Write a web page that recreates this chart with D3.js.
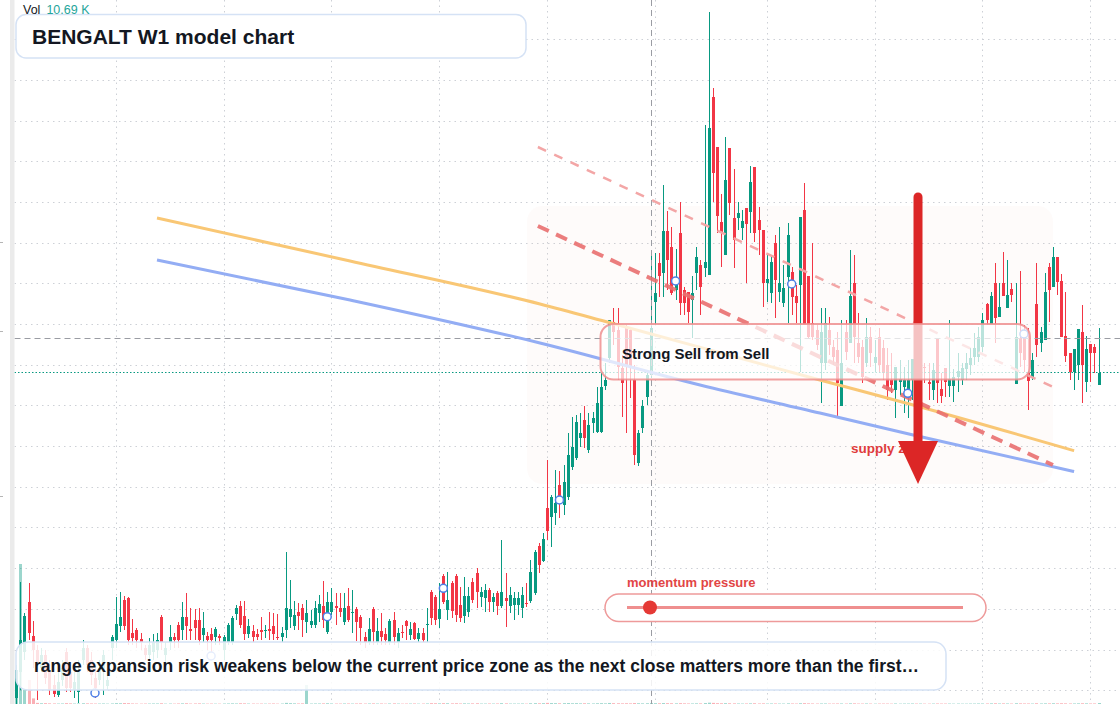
<!DOCTYPE html>
<html><head><meta charset="utf-8">
<script src="https://cdn.jsdelivr.net/npm/d3@7"></script>
<style>
html,body{margin:0;padding:0;background:#fff;overflow:hidden;}
svg{display:block;font-family:"Liberation Sans",Arial,sans-serif;}
</style></head><body>
<svg id="c" width="1120" height="704"></svg>
<script>
// ---- data: weekly candles [open, high, low, close]
const ohlc = [
[2.2,5.5,1.4,5.0],[4.8,13.8,3.0,8.0],[6.8,10.7,6.0,10.4],[11.8,13.7,8.0,8.7],[8.4,9.9,5.2,7.0],[7.0,7.5,2.0,5.8],[5.2,7.2,4.8,6.5],[6.5,7.0,3.6,4.2],[5.0,6.0,2.5,3.0],[3.5,4.5,2.3,2.6],
[2.5,5.0,2.3,3.8],[4.0,6.0,3.4,5.2],[6.8,7.2,2.8,3.2],[4.8,5.5,2.8,3.2],[3.0,4.8,2.2,3.8],[2.8,6.0,1.7,4.8],[6.0,8.0,5.5,7.2],[7.2,7.5,4.8,5.5],[6.0,6.8,3.5,4.5],[4.2,5.2,2.2,3.2],
[4.0,6.0,3.5,5.2],[4.8,7.0,2.5,6.5],[3.4,4.8,3.0,4.0],[7.2,8.5,6.0,8.3],[8.0,12.3,7.2,9.6],[9.4,12.8,8.8,10.3],[12.0,12.4,9.0,9.4],[12.2,12.3,7.5,8.0],[8.7,10.1,7.5,8.2],[9.0,9.2,7.2,8.0],
[8.1,8.7,7.0,7.8],[7.2,7.5,6.0,6.5],[6.5,8.2,5.5,7.5],[6.8,8.6,6.0,7.8],[7.0,8.7,6.2,8.0],[10.3,10.5,7.0,7.8],[6.5,7.8,5.8,7.2],[7.8,9.5,7.0,8.3],[8.3,8.7,7.2,8.0],[9.5,9.8,7.2,8.0],
[9.0,11.8,8.0,10.3],[10.3,12.7,8.0,9.4],[9.1,11.2,8.0,8.9],[10.0,11.1,8.0,9.2],[10.0,11.2,7.5,8.0],[8.5,10.8,7.8,9.2],[8.4,8.8,7.0,8.0],[8.6,9.2,6.0,8.0],[8.3,9.3,7.5,9.1],[8.4,8.6,7.5,8.2],
[7.0,8.5,6.0,8.3],[7.8,9.7,7.5,9.5],[7.8,10.4,7.5,10.2],[10.6,11.5,10.0,11.2],[11.4,11.9,9.2,9.5],[10.4,11.9,8.0,8.6],[8.6,10.1,8.2,9.4],[8.9,9.5,7.8,8.3],[8.6,9.1,8.0,8.3],[9.0,10.3,8.0,8.8],
[8.9,9.5,8.2,9.0],[9.1,10.8,8.0,8.9],[9.4,10.7,8.0,8.6],[8.3,10.6,8.0,8.2],[8.3,9.3,7.8,8.7],[9.0,16.8,8.2,11.2],[10.3,14.0,9.2,11.1],[9.4,11.9,9.0,10.5],[10.8,11.7,9.0,10.4],[11.2,11.6,8.3,10.0],
[9.8,12.0,8.7,10.7],[9.5,11.0,9.2,9.9],[9.5,11.9,9.2,11.2],[10.7,12.5,9.8,11.6],[11.4,13.9,9.2,10.0],[8.8,12.8,8.6,11.8],[10.8,13.2,10.5,11.8],[11.4,12.7,9.5,11.2],[11.2,12.7,10.3,10.8],[9.8,12.7,9.5,11.2],
[11.4,13.2,9.8,10.0],[10.7,13.0,8.7,10.8],[11.1,11.3,7.9,9.8],[10.3,10.5,7.5,9.2],[8.3,8.8,7.2,7.8],[7.8,10.2,7.5,9.1],[11.1,11.3,7.5,8.8],[7.8,10.2,7.5,8.9],[8.9,10.7,7.5,8.3],[8.6,9.2,7.5,8.0],
[7.8,10.1,7.5,9.9],[10.0,10.8,7.5,8.3],[7.8,9.2,7.2,8.7],[8.8,9.5,8.2,8.7],[9.9,10.0,8.0,9.4],[8.5,9.8,8.0,9.1],[9.7,9.8,8.0,8.1],[8.1,9.2,7.8,8.7],[8.7,9.2,7.8,8.0],[9.5,11.2,7.8,9.6],
[12.8,13.0,9.5,10.2],[12.3,12.5,9.5,10.0],[10.1,13.7,9.2,11.1],[14.4,14.6,11.6,11.8],[11.0,14.8,10.0,12.0],[13.7,13.9,10.2,10.9],[14.4,14.6,9.8,10.5],[11.5,13.3,9.8,10.2],[10.4,14.3,9.7,12.4],[10.8,13.3,10.3,12.4],
[13.8,14.2,11.7,12.0],[14.7,15.2,11.2,12.8],[12.3,13.3,11.3,12.8],[12.2,13.6,10.8,13.0],[13.0,13.2,10.8,11.8],[11.8,12.7,10.8,12.3],[12.7,12.9,10.5,11.4],[11.4,18.0,11.2,12.8],[12.2,14.7,9.3,11.9],[11.4,13.3,10.7,12.5],
[11.5,12.8,10.0,12.2],[11.5,12.8,10.5,12.2],[11.2,13.3,10.2,12.5],[11.7,13.7,11.3,11.6],[11.9,16.0,11.7,14.8],[12.7,17.0,12.5,16.8],[17.4,17.7,14.7,15.5],[15.9,18.7,15.8,18.1],[21.2,26.0,18.0,18.9],[20.3,22.5,17.3,22.3],
[20.7,25.0,19.5,21.7],[23.5,24.9,20.2,22.3],[21.5,25.5,20.5,23.8],[22.3,28.7,22.0,26.5],[25.3,30.3,25.0,27.3],[26.2,30.5,26.0,29.8],[28.2,30.7,27.3,28.7],[30.0,31.4,27.2,28.2],[27.0,30.7,26.7,29.5],[29.7,30.8,28.7,30.2],
[28.8,33.3,28.7,31.7],[28.8,34.7,28.7,33.3],[33.4,35.7,33.0,34.0],[36.2,40.0,35.7,40.0],[39.8,41.2,37.5,38.8],[39.0,41.2,34.0,35.3],[35.2,36.5,30.3,33.7],[39.3,39.5,28.7,35.3],[39.0,39.3,32.2,35.3],[34.0,35.5,25.5,26.5],
[25.7,29.0,25.4,28.7],[29.2,32.0,28.7,31.4],[32.3,34.7,31.5,34.5],[34.5,46.7,34.2,39.2],[41.8,46.7,39.5,42.7],[45.7,46.7,42.3,44.4],[44.7,53.5,42.3,48.9],[48.9,50.9,43.0,46.0],[47.3,49.3,42.5,42.7],[43.0,47.1,42.0,43.7],
[48.7,51.8,40.5,41.7],[43.0,43.3,40.5,41.7],[42.8,42.8,39.7,40.8],[42.0,44.4,38.2,42.7],[44.7,47.3,43.0,46.3],[45.5,46.0,40.5,43.3],[45.2,59.5,44.3,45.8],[44.5,70.8,44.5,59.2],[62.3,63.2,51.8,54.7],[57.3,57.3,48.7,50.4],
[49.8,52.6,45.3,48.7],[46.5,58.3,46.5,54.0],[57.2,57.2,50.5,51.7],[50.2,55.1,45.2,48.0],[50.2,51.8,49.0,50.7],[49.2,51.0,48.0,49.9],[51.2,51.2,43.7,49.6],[50.8,55.4,48.7,53.8],[55.3,55.3,47.8,48.7],[50.0,51.3,46.5,49.0],
[49.0,49.0,41.3,43.7],[43.7,46.7,41.8,44.1],[42.7,46.5,41.7,45.8],[47.7,48.5,40.2,44.0],[42.8,49.3,41.8,43.7],[41.7,45.5,41.3,43.2],[44.3,49.7,39.7,48.5],[44.8,45.3,40.5,42.3],[42.4,43.5,39.7,41.7],[43.5,50.3,34.8,50.3],
[51.0,53.7,39.5,39.5],[44.4,44.4,38.2,38.3],[39.7,47.7,38.0,38.3],[39.0,39.5,37.0,37.5],[35.7,41.2,31.7,38.8],[35.7,41.2,35.0,39.7],[39.0,40.3,36.5,37.5],[37.3,38.0,35.5,36.3],[37.0,38.8,30.3,33.7],[31.4,40.0,31.4,35.7],
[38.8,40.0,36.0,36.8],[37.7,47.0,37.7,42.4],[43.7,46.5,35.7,38.3],[37.7,40.7,35.7,36.3],[37.3,38.0,33.7,34.3],[35.7,40.2,35.3,38.3],[38.3,39.3,35.3,36.7],[35.7,38.0,34.8,36.3],[38.3,39.2,34.8,35.5],[37.2,38.0,34.0,34.7],
[35.5,37.2,32.0,33.0],[34.0,36.7,32.7,33.5],[33.0,35.3,30.2,35.3],[33.8,36.0,32.5,34.1],[33.3,35.3,30.7,34.0],[32.7,36.0,30.2,34.0],[34.0,36.1,32.0,36.1],[35.5,37.0,32.0,33.7],[33.5,36.5,32.5,35.0],[35.3,35.7,33.7,35.2],
[33.8,35.7,32.0,33.6],[33.0,35.7,32.0,35.0],[38.2,38.2,31.7,33.7],[33.1,34.7,31.7,32.4],[35.2,35.2,32.3,33.8],[33.4,40.0,32.3,34.1],[33.4,35.1,31.8,34.3],[34.3,36.7,32.8,34.9],[34.0,35.7,33.5,35.2],[35.1,36.7,34.0,35.7],
[35.5,37.2,34.5,36.2],[36.3,38.7,35.5,37.2],[36.3,39.3,35.8,38.3],[37.3,40.7,36.8,40.0],[41.6,41.7,39.5,40.0],[39.6,42.8,39.6,42.4],[43.7,45.7,37.7,40.2],[40.3,43.7,40.3,41.3],[43.7,46.8,42.4,42.4],[41.2,46.0,41.2,42.5],
[43.1,43.7,41.8,42.5],[33.6,43.7,33.6,38.3],[38.2,44.9,35.3,36.7],[38.3,39.5,34.8,36.0],[34.7,39.2,31.0,33.9],[34.3,36.7,34.0,36.0],[41.6,45.7,36.3,37.5],[37.7,39.3,36.8,38.8],[38.0,44.7,38.0,42.8],[45.3,45.7,39.8,43.0],
[43.3,47.3,43.3,46.3],[46.3,46.3,42.5,43.8],[43.9,44.6,38.3,38.3],[38.4,42.8,35.8,36.4],[36.7,36.7,34.0,34.8],[34.8,37.1,33.0,37.1],[35.5,39.1,34.0,39.1],[38.8,41.5,31.7,35.5],[33.8,38.4,32.8,37.1],[37.6,37.6,33.8,36.7],
[37.3,37.6,34.7,36.7],[33.5,39.2,33.5,34.7]
];
// weekly volume, thousands
const volumes = [
150,1500,150,257,60,12,8,9,7,6, 5,6,9,7,5,6,8,7,6,5, 5,6,4,6,9,8,10,9,6,5, 4,5,5,6,6,8,4,5,4,6,
7,8,5,6,7,5,4,5,4,4, 5,6,7,6,8,7,5,5,4,5, 4,5,6,4,5,12,9,7,6,7, 204,5,6,6,7,8,6,5,5,6,
6,5,6,7,5,6,7,5,6,4, 6,7,5,4,5,5,6,4,5,6, 9,8,7,9,8,7,8,6,7,6, 7,8,5,5,6,5,6,9,7,5,
5,5,6,4,8,9,8,9,12,10, 9,8,9,10,8,9,7,8,7,6, 8,9,7,11,9,8,7,8,7,10, 8,7,8,11,9,8,10,9,8,7,
9,7,6,6,7,7,10,14,12,9, 8,9,8,7,6,5,6,7,8,6, 7,5,6,6,5,5,7,6,5,8, 9,7,6,5,6,6,5,5,6,6,
5,7,7,5,5,6,5,4,5,5, 5,4,6,4,5,5,6,5,5,4, 4,5,6,5,5,5,4,5,4,4, 5,5,6,6,6,7,8,6,7,6,
5,8,7,6,6,5,8,6,7,7, 8,7,8,7,6,6,7,8,7,6, 6,10.69
];
const markerIdx = [19,47,75,103,131,159,187,215,243];
const markerPrice = [2.7,6.4,10.33,13.17,22.0,43.9,43.6,32.67,38.6];
const gridIdx = [24,50,76,102,128,154,181,207,233,259];
const gridPrice = [68.07,64.0,59.93,55.87,51.8,47.73,43.66,39.6,35.53,31.46,27.39,23.32,19.26,15.19,11.12,7.05,2.98];
const axisStubPrice = [47.8,38.9,22.4];
const orangeLine = [[33.95,50.2],[80.5,45.9],[126.3,41.6],[143.2,39.73],[193.8,34.0],[216.3,31.5],[255.1,26.93]];
const blueLine = [[33.95,46.0],[80.5,42.0],[126.3,37.7],[164.9,33.5],[193.8,30.7],[216.3,28.5],[255.1,24.85]];
const channelUpper = [[125.8,57.3],[250,33.3]];
const channelLower = [[125.8,49.4],[250,25.5]];
const supplyZone = [123.2, 250, 51.4, 23.6]; // idx from, idx to, price top, price bottom
const arrowIdx = 217.46, arrowPrices = [52.3, 27.5, 27.9, 23.6]; // shaft top, shaft end, head base, tip
const crossIdx = 153.15, crossPrice = 38.2;
const titleText = "BENGALT W1 model chart";
const bannerText = "range expansion risk weakens below the current price zone as the next close matters more than the first\u2026";
const signalText = "Strong Sell from Sell";

// ---- drawing
const W = 1120, H = 704;
const UP = "#089981", DN = "#f23645";
const svg = d3.select("#c");
const n = ohlc.length;
const xs = d3.scaleLinear().domain([0, n - 1]).range([16.2, 16.2 + 4.147 * (n - 1)]);
const ys = d3.scaleLinear().domain([72, 1.6]).range([0, H]);
const vs = d3.scaleLinear().domain([0, 1500]).range([0, 140]);

svg.append("rect").attr("width", W).attr("height", H).attr("fill", "#fff");
svg.append("rect").attr("x", 10).attr("y", 0).attr("width", 4.5).attr("height", H).attr("fill", "#ebebeb");
svg.selectAll(".stub").data(axisStubPrice).join("line")
  .attr("x1", 0).attr("x2", 3).attr("y1", d => Math.round(ys(d)) + 0.5).attr("y2", d => Math.round(ys(d)) + 0.5)
  .attr("stroke", "#b5b5b5").attr("stroke-width", 1);

const defs = svg.append("defs");
defs.append("clipPath").attr("id", "clip").append("rect").attr("x", 14.5).attr("y", 0).attr("width", W - 14.5).attr("height", H);
const g = svg.append("g").attr("clip-path", "url(#clip)");

// grid
g.selectAll(".hg").data(gridPrice).join("line")
  .attr("x1", 14.5).attr("x2", W).attr("y1", d => Math.round(ys(d)) + 0.5).attr("y2", d => Math.round(ys(d)) + 0.5)
  .attr("stroke", "#cdd0d6").attr("stroke-dasharray", "1.5,4").attr("stroke-width", 1);
g.selectAll(".vg").data(gridIdx).join("line")
  .attr("y1", 0).attr("y2", H).attr("x1", d => Math.round(xs(d)) + 0.5).attr("x2", d => Math.round(xs(d)) + 0.5)
  .attr("stroke", "#cdd0d6").attr("stroke-dasharray", "1.5,4").attr("stroke-width", 1);

// supply zone
g.append("rect")
  .attr("x", xs(supplyZone[0])).attr("y", ys(supplyZone[2]))
  .attr("width", xs(supplyZone[1]) - xs(supplyZone[0])).attr("height", ys(supplyZone[3]) - ys(supplyZone[2]))
  .attr("rx", 15).attr("fill", "rgb(240,205,180)").attr("fill-opacity", 0.07);

// volume
const data = ohlc.map((d, i) => ({ i, o: d[0], h: d[1], l: d[2], c: d[3], v: volumes[i] }));
g.selectAll(".vol").data(data).join("rect")
  .attr("x", d => Math.round(xs(d.i)) - 1).attr("width", 3)
  .attr("y", d => H - vs(d.v)).attr("height", d => vs(d.v))
  .attr("fill", d => d.c >= d.o ? UP : DN).attr("fill-opacity", 0.4);

// candles
const cg = g.append("g");
cg.selectAll(".wick").data(data).join("line")
  .attr("x1", d => Math.round(xs(d.i)) + 0.5).attr("x2", d => Math.round(xs(d.i)) + 0.5)
  .attr("y1", d => ys(d.h)).attr("y2", d => ys(d.l))
  .attr("stroke", d => d.c >= d.o ? UP : DN).attr("stroke-width", 1);
cg.selectAll(".body").data(data).join("rect")
  .attr("x", d => Math.round(xs(d.i)) - 1).attr("width", 3)
  .attr("y", d => ys(Math.max(d.o, d.c)))
  .attr("height", d => Math.max(1, Math.abs(ys(d.o) - ys(d.c))))
  .attr("fill", d => d.c >= d.o ? UP : DN);

// crosshair & last price
g.append("line").attr("x1", Math.round(xs(crossIdx)) + 0.5).attr("x2", Math.round(xs(crossIdx)) + 0.5)
  .attr("y1", 0).attr("y2", H).attr("stroke", "#9a9ca3").attr("stroke-dasharray", "6,4").attr("stroke-width", 1);
g.append("line").attr("x1", 14.5).attr("x2", W).attr("y1", Math.round(ys(crossPrice)) + 0.5).attr("y2", Math.round(ys(crossPrice)) + 0.5)
  .attr("stroke", "#9a9ca3").attr("stroke-dasharray", "6,4").attr("stroke-width", 1);
const lastClose = ohlc[n - 1][3];
g.append("line").attr("x1", 14.5).attr("x2", W).attr("y1", Math.round(ys(lastClose)) - 0.5).attr("y2", Math.round(ys(lastClose)) - 0.5)
  .attr("stroke", UP).attr("stroke-dasharray", "1.5,2").attr("stroke-width", 1.2);

// trend lines
const curve = d3.line().x(d => xs(d[0])).y(d => ys(d[1])).curve(d3.curveMonotoneX);
const straight = d3.line().x(d => xs(d[0])).y(d => ys(d[1]));
g.append("path").attr("d", curve(orangeLine)).attr("fill", "none").attr("stroke", "#f9c775").attr("stroke-width", 3);
g.append("path").attr("d", curve(blueLine)).attr("fill", "none").attr("stroke", "#93adf4").attr("stroke-width", 3);
g.append("path").attr("d", straight(channelUpper)).attr("fill", "none").attr("stroke", "#f3a6a6").attr("stroke-width", 2.5).attr("stroke-dasharray", "9,9");
g.append("path").attr("d", straight(channelLower)).attr("fill", "none").attr("stroke", "#e96f6f").attr("stroke-width", 4).attr("stroke-dasharray", "12,8").attr("stroke-opacity", 0.9);

// markers
g.selectAll(".mk").data(markerIdx).join("circle")
  .attr("cx", d => xs(d)).attr("cy", (d, k) => ys(markerPrice[k])).attr("r", 4)
  .attr("fill", "#fff").attr("stroke", "#4d7fe6").attr("stroke-width", 1.5);

// supply zone label
svg.append("text").attr("x", 851).attr("y", 453).text("supply zone")
  .attr("font-size", 13.5).attr("font-weight", "bold").attr("fill", "#e03b3b");

// arrow
const ax = xs(arrowIdx);
svg.append("line").attr("x1", ax).attr("x2", ax).attr("y1", ys(arrowPrices[0])).attr("y2", ys(arrowPrices[1]))
  .attr("stroke", "#dc2626").attr("stroke-width", 9).attr("stroke-linecap", "round");
svg.append("path")
  .attr("d", `M${ax - 20},${ys(arrowPrices[2])}L${ax + 20},${ys(arrowPrices[2])}L${ax},${ys(arrowPrices[3])}Z`)
  .attr("fill", "#dc2626");

// signal box
svg.append("rect").attr("x", 600.5).attr("y", 324).attr("width", 429.5).attr("height", 55.5).attr("rx", 13)
  .attr("fill", "#fff").attr("fill-opacity", 0.72).attr("stroke", "#ee8f8f").attr("stroke-opacity", 0.85).attr("stroke-width", 2);
svg.append("text").attr("x", 622).attr("y", 359).text(signalText)
  .attr("font-size", 15).attr("font-weight", "bold").attr("fill", "#131722");

// momentum widget
svg.append("text").attr("x", 627).attr("y", 586.5).text("momentum pressure")
  .attr("font-size", 13).attr("font-weight", "bold").attr("fill", "#e24545");
svg.append("rect").attr("x", 605).attr("y", 594).attr("width", 381).attr("height", 27.5).attr("rx", 13.75)
  .attr("fill", "#fff").attr("stroke", "#ee9a9a").attr("stroke-width", 1.5);
svg.append("line").attr("x1", 627).attr("x2", 963).attr("y1", 607.5).attr("y2", 607.5)
  .attr("stroke", "#ef8f8f").attr("stroke-width", 3);
svg.append("circle").attr("cx", 650).attr("cy", 607.5).attr("r", 7).attr("fill", "#e53935");

// banner
svg.append("rect").attr("x", 16).attr("y", 642).attr("width", 930).attr("height", 48).attr("rx", 12)
  .attr("fill", "#fff").attr("fill-opacity", 0.86).attr("stroke", "#d5e2f5").attr("stroke-width", 1.5);
svg.append("text").attr("x", 34).attr("y", 672).text(bannerText)
  .attr("font-size", 17.5).attr("font-weight", "bold").attr("fill", "#131722");

// title
svg.append("rect").attr("x", 16).attr("y", 14.5).attr("width", 510).attr("height", 43.5).attr("rx", 10)
  .attr("fill", "#fff").attr("stroke", "#d5e2f5").attr("stroke-width", 1.5);
svg.append("text").attr("x", 32).attr("y", 43.5).text(titleText)
  .attr("font-size", 21).attr("font-weight", "bold").attr("fill", "#131722");

// volume legend
const vt = svg.append("text").attr("x", 23).attr("y", 13.5).attr("font-size", 12.5);
vt.append("tspan").attr("fill", "#131722").text("Vol");
vt.append("tspan").attr("dx", 6).attr("fill", "#26a69a").text(d3.format(".2f")(volumes[n - 1]) + " K");
</script>
</body></html>
